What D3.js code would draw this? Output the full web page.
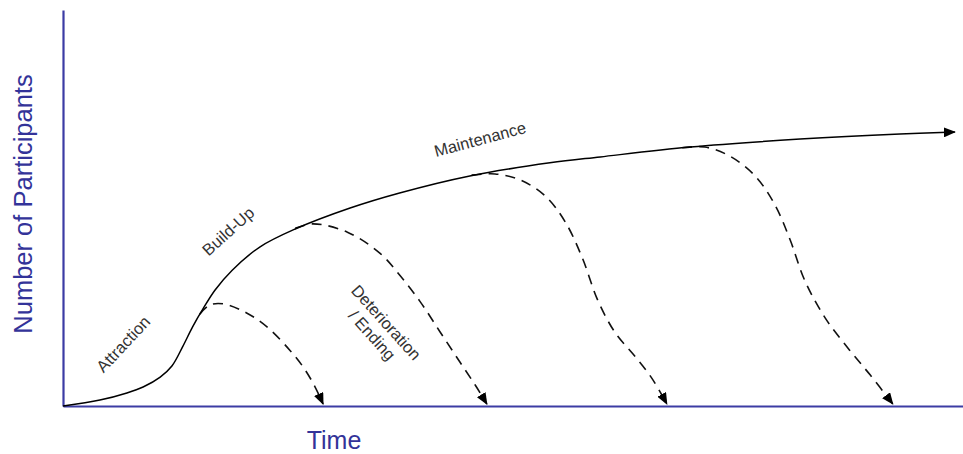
<!DOCTYPE html>
<html>
<head>
<meta charset="utf-8">
<script src="https://cdn.jsdelivr.net/npm/d3@7"></script>
<style>
  html, body { margin: 0; padding: 0; background: #ffffff; }
  svg { display: block; }
  text { font-family: Arial, "Liberation Sans", sans-serif; }
</style>
</head>
<body>
<svg id="chart" width="963" height="454"></svg>
<script>
// ---- Data (time, participants), both on a 0..100 scale ----
const mainTime  = [0, 4.1, 7.1, 8.9, 10.8, 12.1, 13.3, 14.4, 15.6, 16.9, 18.8, 21.9, 25.8, 31.9, 37.4, 45.2, 54.1, 59.7, 69.7, 81.9, 93.0, 99.1];
const mainValue = [0, 1.5, 3.3, 4.8, 7.3, 10.1, 15.0, 20.0, 24.7, 29.3, 34.3, 40.2, 44.7, 50.0, 53.8, 58.1, 61.4, 62.9, 65.4, 67.4, 68.7, 69.2];

const end1Time  = [15.2, 16.3, 17.8, 20.4, 22.7, 25.2, 26.7, 27.9, 28.9];
const end1Value = [23.2, 25.5, 25.8, 23.5, 19.9, 14.1, 9.8, 5.3, 0.5];

const end2Time  = [25.8, 27.8, 31.6, 35.2, 37.4, 39.7, 41.9, 44.1, 45.8, 47.1];
const end2Value = [44.9, 46.0, 43.9, 38.6, 33.1, 26.3, 18.7, 11.1, 5.3, 0.5];

const end3Time  = [45.4, 48.0, 50.8, 53.6, 55.8, 57.7, 59.4, 61.3, 63.6, 65.4, 67.1];
const end3Value = [58.3, 58.6, 57.1, 53.0, 46.5, 37.4, 26.8, 18.7, 12.4, 7.1, 0.5];

const end4Time  = [68.8, 71.3, 74.1, 76.9, 79.1, 80.8, 82.4, 84.7, 87.4, 89.7, 92.2];
const end4Value = [65.2, 65.4, 63.1, 58.1, 50.8, 41.9, 31.8, 22.2, 14.1, 7.8, 0.5];

const axisTitleX = "Time";
const axisTitleY = "Number of Participants";
const stageLabels = ["Attraction", "Build-Up", "Maintenance", "Deterioration", "/ Ending"];

// ---- Layout ----
const svg = d3.select("#chart");
const x = d3.scaleLinear().domain([0, 100]).range([63, 963]);
const y = d3.scaleLinear().domain([0, 100]).range([406, 10]);

const axisColor = "#3c3ca4";
const titleColor = "#333399";
const labelColor = "#333333";

// arrow markers
const defs = svg.append("defs");
defs.append("marker")
  .attr("id", "arrow")
  .attr("markerUnits", "userSpaceOnUse")
  .attr("viewBox", "0 0 12 10")
  .attr("refX", 11).attr("refY", 5)
  .attr("markerWidth", 12).attr("markerHeight", 10)
  .attr("orient", "auto")
  .append("path")
  .attr("d", "M0,0 L12,5 L0,10 Z")
  .attr("fill", "#000");

// axes (domain lines only)
svg.append("g")
  .attr("transform", `translate(0,${y(0)})`)
  .call(d3.axisBottom(x).ticks(0).tickSizeOuter(0))
  .call(g => g.select(".domain").attr("stroke", axisColor).attr("stroke-width", 2.2));
svg.append("g")
  .attr("transform", `translate(${x(0)},0)`)
  .call(d3.axisLeft(y).ticks(0).tickSizeOuter(0))
  .call(g => g.select(".domain").attr("stroke", axisColor).attr("stroke-width", 2.2));

const line = d3.line()
  .x(d => x(d[0]))
  .y(d => y(d[1]))
  .curve(d3.curveCatmullRom.alpha(0.5));

// dashed ending curves
[[end1Time, end1Value], [end2Time, end2Value], [end3Time, end3Value], [end4Time, end4Value]]
  .forEach(([t, v]) => {
    svg.append("path")
      .datum(d3.zip(t, v))
      .attr("d", line)
      .attr("fill", "none")
      .attr("stroke", "#111")
      .attr("stroke-width", 1.6)
      .attr("stroke-dasharray", "10,7")
      .attr("marker-end", "url(#arrow)");
  });

// main curve
svg.append("path")
  .datum(d3.zip(mainTime, mainValue))
  .attr("d", line)
  .attr("fill", "none")
  .attr("stroke", "#000")
  .attr("stroke-width", 1.5)
  .attr("marker-end", "url(#arrow)");

// axis titles
svg.append("text")
  .attr("x", 334).attr("y", 449)
  .attr("text-anchor", "middle")
  .attr("font-size", 25)
  .attr("fill", titleColor)
  .text(axisTitleX);

svg.append("text")
  .attr("transform", "translate(32,204) rotate(-90)")
  .attr("text-anchor", "middle")
  .attr("font-size", 25.5)
  .attr("fill", titleColor)
  .text(axisTitleY);

// stage labels
function stage(txt, cx, cy, ang) {
  svg.append("text")
    .attr("transform", `translate(${cx},${cy}) rotate(${ang})`)
    .attr("text-anchor", "middle")
    .attr("dominant-baseline", "central")
    .attr("font-size", 16.5)
    .attr("fill", labelColor)
    .text(txt);
}
stage(stageLabels[0], 123, 344, -47);
stage(stageLabels[1], 228, 231, -42);
stage(stageLabels[2], 480, 139, -15);

const det = svg.append("text")
  .attr("transform", "translate(379,329) rotate(48)")
  .attr("text-anchor", "middle")
  .attr("font-size", 16.5)
  .attr("fill", labelColor);
det.append("tspan").attr("x", 0).attr("y", -4).text(stageLabels[3]);
det.append("tspan").attr("x", 0).attr("y", 15).text(stageLabels[4]);
</script>
</body>
</html>
